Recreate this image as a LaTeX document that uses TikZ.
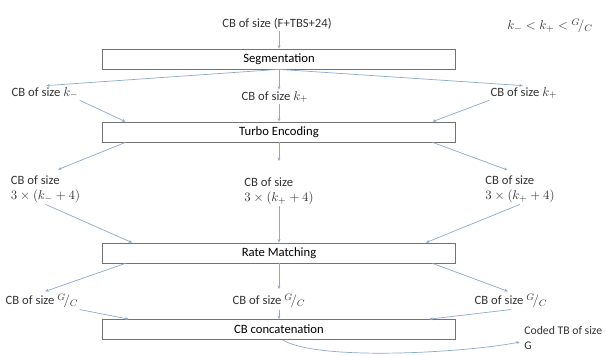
\documentclass[tikz,border=0pt]{standalone}
\usepackage{fontspec}
\setmainfont{Carlito}
\usetikzlibrary{arrows.meta}

\definecolor{lineblue}{RGB}{140,170,205}
\definecolor{boxgray}{RGB}{115,115,115}

\tikzset{
	stage/.style={draw=boxgray, line width=0.6pt, minimum width=10.59cm, minimum height=0.6cm, inner sep=0pt},
	lbl/.style={inner sep=1pt, text=black!80},
	arr/.style={draw=lineblue, line width=0.6pt, -{Stealth[length=3pt, width=2.5pt]}},
}

\begin{document}
\begin{tikzpicture}[x=0.03cm, y=-0.03cm, font=\fontsize{10.8}{12.8}\selectfont]
		\useasboundingbox (0, 0) rectangle (606, 355);

		% processing stages
		\node[stage] (seg) at (279, 59) {Segmentation};
		\node[stage] (turbo) at (279, 132) {Turbo Encoding};
		\node[stage] (rate) at (279, 253) {Rate Matching};
		\node[stage] (concat) at (279, 329.5) {CB concatenation};

		\node[lbl] (tb) at (277, 24) {CB of size (F+TBS+24)};
		\node[lbl] (cond) at (550, 26) {$k_- < k_+ < {}^{G}\!/_{C}$};

		% code block labels
		\node[lbl] (k1) at (45, 93) {CB of size $k_-$};
		\node[lbl] (k2) at (275, 97) {CB of size $k_+$};
		\node[lbl] (k3) at (524, 93) {CB of size $k_+$};

		\node[lbl, align=left] (c1) at (45.5, 189.5) {CB of size\\$3\times(k_- + 4)$};
		\node[lbl, align=left] (c2) at (279, 191) {CB of size\\$3\times(k_+ + 4)$};
		\node[lbl, align=left] (c3) at (520, 189.5) {CB of size\\$3\times(k_+ + 4)$};

		\node[lbl] (g1) at (42, 301) {CB of size ${}^{G}\!/_{C}$};
		\node[lbl] (g2) at (269, 301) {CB of size ${}^{G}\!/_{C}$};
		\node[lbl] (g3) at (511, 301) {CB of size ${}^{G}\!/_{C}$};

		\node[lbl, align=left, anchor=west, font=\fontsize{10}{12.8}\selectfont] (coded) at (523, 338) {Coded TB of size\\G};

		\draw[arr] (seg.north |- tb.south) -- (seg.north);

		\draw[arr, shorten >=1pt] (seg.south) -- (k1.north);
		\draw[arr] (seg.south) -- (seg.south |- k2.north);
		\draw[arr, shorten >=1pt] (seg.south) -- (k3.north);

		\draw[arr] (k1.south east) -- ([xshift=0.7cm]turbo.north west);
		\draw[arr] (turbo.north |- k2.south) -- (turbo.north);
		\draw[arr] (k3.south west) -- ([xshift=-0.7cm]turbo.north east);

		\draw[arr, shorten >=0.4cm] ([xshift=0.7cm]turbo.south west) -- (c1.north);
		\draw[arr, shorten >=0.45cm] (turbo.south) -- (turbo.south |- c2.north);
		\draw[arr, shorten >=0.4cm] ([xshift=-0.7cm]turbo.south east) -- (c3.north);

		\draw[arr] (c1.south) -- ([xshift=0.9cm]rate.north west);
		\draw[arr] (rate.north |- c2.south) -- (rate.north);
		\draw[arr] (c3.south) -- ([xshift=-0.9cm]rate.north east);

		\draw[arr, shorten >=0.1cm] ([xshift=0.7cm]rate.south west) -- (g1.north);
		\draw[arr, shorten >=0.1cm] (rate.south) -- (rate.south |- g2.north);
		\draw[arr, shorten >=0.1cm] ([xshift=-0.7cm]rate.south east) -- (g3.north);

		\draw[arr] (g1.south east) -- ([xshift=0.8cm]concat.north west);
		\draw[arr] (concat.north |- g2.south) -- (concat.north);
		\draw[arr] (g3.south) -- ([xshift=-0.8cm]concat.north east);

		\draw[arr] ([xshift=0.1cm]concat.south) .. controls (320, 362) and (470, 352) .. ([xshift=-0.1cm, yshift=-0.12cm]coded.west);
	\end{tikzpicture}
\end{document}
